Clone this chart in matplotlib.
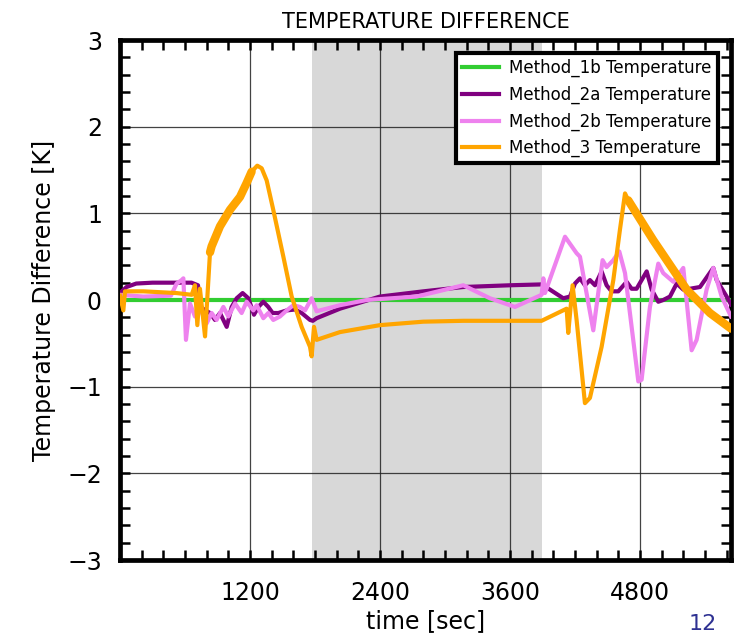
import matplotlib
matplotlib.use("Agg")
import matplotlib.pyplot as plt
from matplotlib.ticker import MultipleLocator

# time axis [sec]
t_end = 5640
shade_start, shade_end = 1770, 3900

# Method_1b: zero reference
t_1b = [0, 5640]
dT_1b = [0.0, 0.0]

# Method_2a
t_2a = [0, 60, 150, 300, 600, 660, 720, 738, 831, 877, 923, 985, 1031, 1077,
        1132, 1185, 1237, 1277, 1323, 1369, 1409, 1462, 1539, 1615, 1677, 1754,
        1780, 1815, 2031, 2400, 2800, 3169, 3600, 3892, 3969, 4092, 4154, 4200,
        4246, 4292, 4338, 4385, 4446, 4492, 4538, 4600, 4677, 4723, 4769, 4862,
        4908, 4969, 5015, 5077, 5139, 5200, 5262, 5354, 5477, 5508, 5600, 5640]
dT_2a = [0.08, 0.15, 0.19, 0.2, 0.2, 0.2, 0.17, -0.08, -0.15, -0.23, -0.15,
         -0.31, -0.08, 0.02, 0.08, 0.02, -0.17, -0.08, -0.02, -0.08, -0.15,
         -0.15, -0.12, -0.11, -0.15, -0.23, -0.24, -0.21, -0.1, 0.04, 0.1,
         0.15, 0.17, 0.18, 0.12, 0.02, 0.04, 0.19, 0.25, 0.17, 0.23, 0.17,
         0.33, 0.17, 0.1, 0.1, 0.21, 0.13, 0.13, 0.33, 0.12, -0.02, 0.0, 0.04,
         0.19, 0.12, 0.13, 0.15, 0.37, 0.23, 0.04, -0.05]

# Method_2b
t_2b = [0, 215, 470, 523, 569, 585, 609, 646, 692, 740, 800, 846, 892, 954,
        1000, 1062, 1123, 1169, 1231, 1262, 1323, 1369, 1415, 1477, 1539, 1600,
        1662, 1708, 1769, 1815, 2031, 2277, 2738, 3169, 3415, 3646, 3892, 3908,
        3923, 4108, 4215, 4246, 4369, 4455, 4492, 4554, 4609, 4662, 4785, 4815,
        4892, 4969, 5015, 5108, 5200, 5277, 5323, 5415, 5477, 5554, 5640]
dT_2b = [0.06, 0.04, 0.05, 0.19, 0.23, 0.25, -0.46, -0.04, -0.19, -0.1, -0.27,
         -0.15, -0.23, -0.08, -0.19, -0.04, -0.15, -0.02, -0.12, -0.06, -0.21,
         -0.15, -0.23, -0.19, -0.12, -0.06, -0.08, -0.12, 0.02, -0.13, -0.06,
         0.0, 0.04, 0.17, 0.02, -0.08, 0.06, 0.25, 0.08, 0.73, 0.54, 0.5,
         -0.35, 0.46, 0.38, 0.46, 0.56, 0.31, -0.94, -0.92, -0.08, 0.42, 0.31,
         0.21, 0.37, -0.58, -0.46, 0.12, 0.37, 0.04, -0.19]

# Method_3
t_3 = [0, 31, 46, 215, 523, 662, 692, 714, 738, 785, 831, 846, 923, 1015,
       1108, 1169, 1215, 1267, 1308, 1354, 1415, 1508, 1585, 1677, 1754, 1769,
       1791, 1815, 2031, 2400, 2800, 3169, 3600, 3892, 4123, 4138, 4178, 4215,
       4292, 4338, 4446, 4554, 4615, 4662, 4692, 4923, 5231, 5446, 5640]
dT_3 = [0.05, -0.12, 0.1, 0.1, 0.08, 0.06, 0.17, -0.29, 0.13, -0.42, 0.55,
        0.62, 0.85, 1.04, 1.19, 1.35, 1.48, 1.55, 1.52, 1.38, 1.04, 0.5, 0.04,
        -0.31, -0.54, -0.65, -0.31, -0.46, -0.37, -0.29, -0.25, -0.24, -0.24,
        -0.24, -0.1, -0.38, 0.17, -0.23, -1.19, -1.13, -0.54, 0.23, 0.81,
        1.23, 1.15, 0.69, 0.12, -0.15, -0.33]
# stretches where the Method_3 signal chatters (drawn heavier)
noisy_3 = [(10, 17), (44, 49)]

x_ticks = [1200, 2400, 3600, 4800]
y_ticks = [-3, -2, -1, 0, 1, 2, 3]

fig = plt.figure(figsize=(7.43, 6.35), dpi=100)
ax = fig.add_axes([0.1615, 0.1181, 0.8223, 0.8189])

ax.axvspan(shade_start, shade_end, color="#d8d8d8", zorder=0, lw=0)

ax.plot(t_1b, dT_1b, color="limegreen", lw=3, label="Method_1b Temperature", zorder=3)
ax.plot(t_2a, dT_2a, color="purple", lw=3, label="Method_2a Temperature", zorder=3)
ax.plot(t_2b, dT_2b, color="violet", lw=3, label="Method_2b Temperature", zorder=3)
ax.plot(t_3, dT_3, color="orange", lw=3, label="Method_3 Temperature", zorder=4)
for i0, i1 in noisy_3:
    ax.plot(t_3[i0:i1], dT_3[i0:i1], color="orange", lw=6,
            solid_capstyle="round", zorder=4)

ax.set_xlim(0, t_end)
ax.set_ylim(-3, 3)
ax.set_xticks(x_ticks)
ax.set_yticks(y_ticks)
ax.set_yticklabels(["\u22123", "\u22122", "\u22121", "0", "1", "2", "3"])
ax.xaxis.set_minor_locator(MultipleLocator(200))
ax.yaxis.set_minor_locator(MultipleLocator(0.2))
ax.tick_params(which="both", direction="in", top=True, right=True,
               length=7, width=1.8, color="black")
ax.tick_params(axis="x", which="major", labelsize=17, pad=15)
ax.tick_params(axis="y", which="major", labelsize=17, pad=13)
ax.grid(True, which="major", color="#222222", lw=0.9, alpha=0.85, zorder=1)
ax.set_axisbelow(True)
for sp in ax.spines.values():
    sp.set_linewidth(3.4)

ax.set_title("TEMPERATURE DIFFERENCE", fontsize=15, pad=9)
ax.set_xlabel("time [sec]", fontsize=17, labelpad=3)
ax.set_ylabel("Temperature Difference [K]", fontsize=17, labelpad=8)

leg = ax.legend(loc="upper right", fontsize=12, fancybox=False,
                framealpha=1, edgecolor="black", borderaxespad=0.8,
                handlelength=2.2, handletextpad=0.65, borderpad=0.35,
                labelspacing=0.5)
leg.get_frame().set_linewidth(3)

fig.text(0.946, 0.002, "12", color="#2e3192", fontsize=16, ha="center", va="bottom")

fig.savefig("out.png", dpi=100)
